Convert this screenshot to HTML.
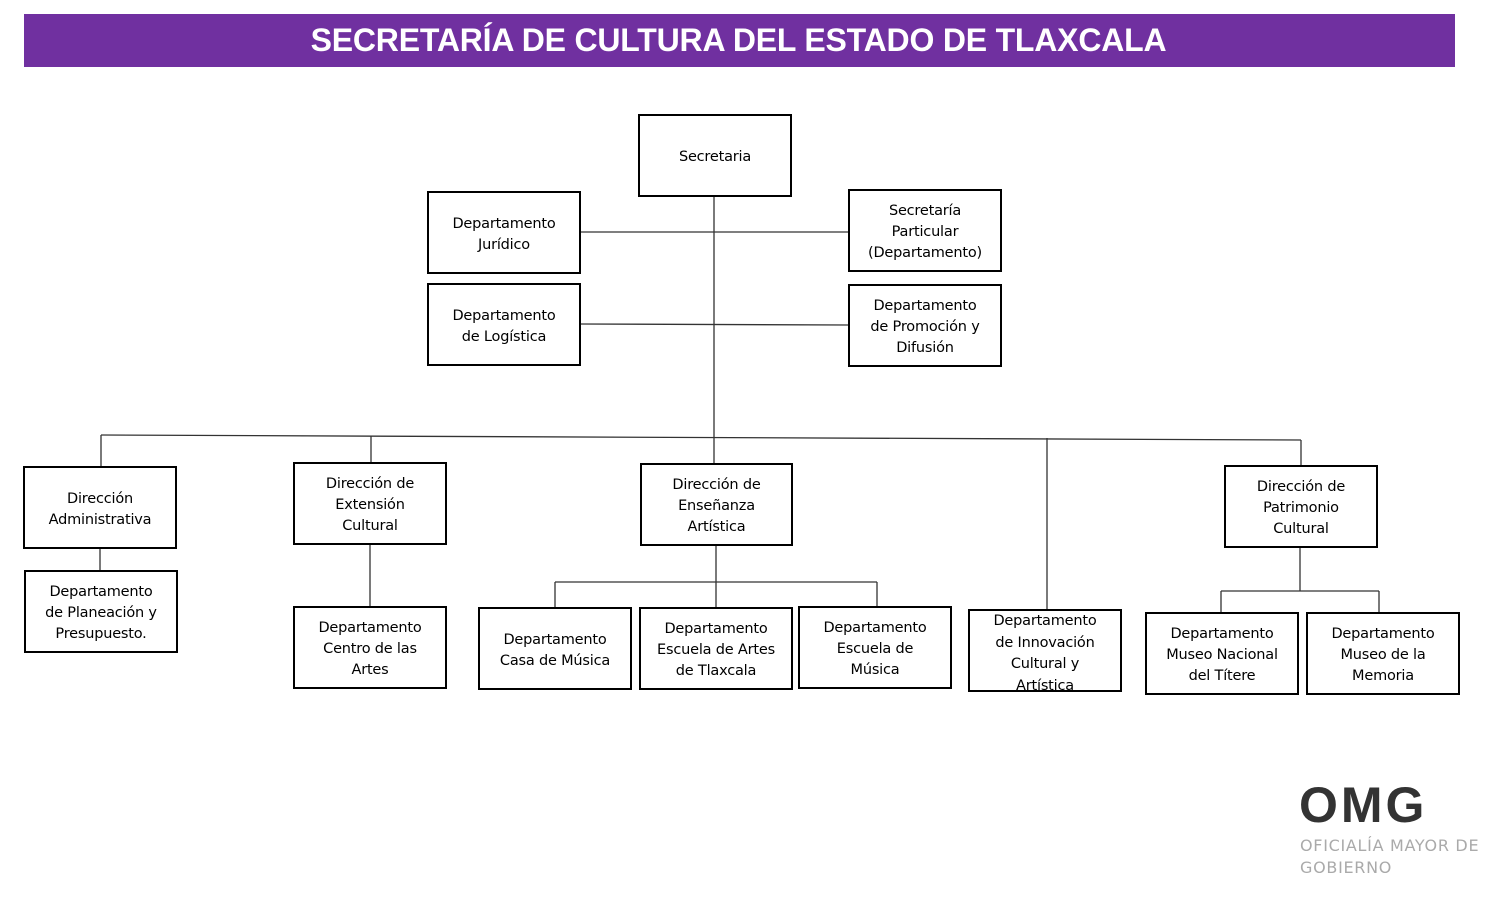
<!DOCTYPE html>
<html><head><meta charset="utf-8"><style>
body{margin:0;width:1498px;height:898px;background:#fff;position:relative;overflow:hidden;font-family:"DejaVu Sans","Liberation Sans",sans-serif;}
.hdr{position:absolute;left:24px;top:14px;width:1431px;height:53px;background:#7030a0;color:#fff;font:bold 32px "Liberation Sans",Arial,sans-serif;text-align:center;line-height:53px;text-indent:-2px;letter-spacing:-0.2px}
.b{position:absolute;box-sizing:border-box;border:2px solid #000;background:#fff;display:flex;align-items:center;justify-content:center;text-align:center;font-size:14.5px;line-height:21px;color:#000;font-family:"DejaVu Sans","Liberation Sans",sans-serif;letter-spacing:-0.2px;padding-top:4px}
svg{position:absolute;left:0;top:0}
.logo{position:absolute;left:1299px;top:776px;font:900 50px "Liberation Sans",sans-serif;color:#333;letter-spacing:3px}
.sub{position:absolute;left:1300px;top:835px;font:16px "DejaVu Sans",sans-serif;color:#aaa;line-height:22px;letter-spacing:0.7px}
</style></head><body>
<div class="hdr">SECRETARÍA DE CULTURA DEL ESTADO DE TLAXCALA</div>
<svg width="1498" height="898"><g stroke="#333" stroke-width="1.3" fill="none">
<line x1="714" y1="196" x2="714" y2="437"/>
<line x1="580" y1="232" x2="848" y2="232"/>
<line x1="580" y1="324" x2="848" y2="325"/>
<line x1="101" y1="435" x2="1301" y2="440"/>
<line x1="101" y1="435" x2="101" y2="466"/>
<line x1="371" y1="436" x2="371" y2="462"/>
<line x1="714" y1="437" x2="714" y2="463"/>
<line x1="1047" y1="438" x2="1047" y2="609"/>
<line x1="1301" y1="440" x2="1301" y2="465"/>
<line x1="100" y1="548" x2="100" y2="570"/>
<line x1="370" y1="544" x2="370" y2="606"/>
<line x1="716" y1="545" x2="716" y2="607"/>
<line x1="555" y1="582" x2="877" y2="582"/>
<line x1="555" y1="582" x2="555" y2="607"/>
<line x1="877" y1="582" x2="877" y2="606"/>
<line x1="1300" y1="547" x2="1300" y2="591"/>
<line x1="1221" y1="591" x2="1379" y2="591"/>
<line x1="1221" y1="591" x2="1221" y2="612"/>
<line x1="1379" y1="591" x2="1379" y2="612"/>
</g></svg>
<div class="b" style="left:638px;top:114px;width:154px;height:83px">Secretaria</div>
<div class="b" style="left:427px;top:191px;width:154px;height:83px">Departamento<br>Jurídico</div>
<div class="b" style="left:848px;top:189px;width:154px;height:83px">Secretaría<br>Particular<br>(Departamento)</div>
<div class="b" style="left:427px;top:283px;width:154px;height:83px">Departamento<br>de Logística</div>
<div class="b" style="left:848px;top:284px;width:154px;height:83px">Departamento<br>de Promoción y<br>Difusión</div>
<div class="b" style="left:23px;top:466px;width:154px;height:83px">Dirección<br>Administrativa</div>
<div class="b" style="left:24px;top:570px;width:154px;height:83px">Departamento<br>de Planeación y<br>Presupuesto.</div>
<div class="b" style="left:293px;top:462px;width:154px;height:83px">Dirección de<br>Extensión<br>Cultural</div>
<div class="b" style="left:293px;top:606px;width:154px;height:83px">Departamento<br>Centro de las<br>Artes</div>
<div class="b" style="left:640px;top:463px;width:153px;height:83px">Dirección de<br>Enseñanza<br>Artística</div>
<div class="b" style="left:478px;top:607px;width:154px;height:83px">Departamento<br>Casa de Música</div>
<div class="b" style="left:639px;top:607px;width:154px;height:83px">Departamento<br>Escuela de Artes<br>de Tlaxcala</div>
<div class="b" style="left:798px;top:606px;width:154px;height:83px">Departamento<br>Escuela de<br>Música</div>
<div class="b" style="left:968px;top:609px;width:154px;height:83px;align-items:flex-start;padding-top:0;line-height:21.5px;overflow:hidden"><div style="margin-top:0">Departamento<br>de Innovación<br>Cultural y<br>Artística</div></div>
<div class="b" style="left:1224px;top:465px;width:154px;height:83px">Dirección de<br>Patrimonio<br>Cultural</div>
<div class="b" style="left:1145px;top:612px;width:154px;height:83px">Departamento<br>Museo Nacional<br>del Títere</div>
<div class="b" style="left:1306px;top:612px;width:154px;height:83px">Departamento<br>Museo de la<br>Memoria</div>
<div class="logo">OMG</div>
<div class="sub">OFICIALÍA MAYOR DE<br>GOBIERNO</div>
</body></html>
